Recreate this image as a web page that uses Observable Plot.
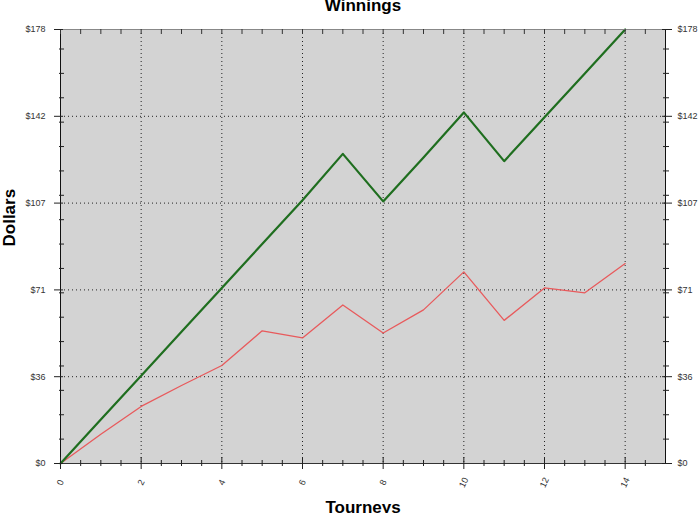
<!DOCTYPE html>
<html>
<head>
<meta charset="utf-8">
<script src="https://cdn.jsdelivr.net/npm/d3@7"></script>
<script src="https://cdn.jsdelivr.net/npm/@observablehq/plot@0.6"></script>
<style>
  html, body { margin: 0; padding: 0; background: #fff; }
  #chart svg { display: block; }
</style>
</head>
<body>
<div id="chart"></div>
<script>
const tourneys = [0, 1, 2, 3, 4, 5, 6, 7, 8, 9, 10, 11, 12, 13, 14];
const greenWinnings = [0, 18, 36, 54, 72, 90, 108, 127, 107.5, 125.5, 144, 124, 142, 160, 178];
const redWinnings = [0, 12, 23.4, 32, 40.2, 54.4, 51.5, 65, 53.5, 63, 78.6, 58.7, 72, 70, 82];

const xLabelTicks = [0, 2, 4, 6, 8, 10, 12, 14];
const xMinorTicks = [0.5, 1, 1.5, 2.5, 3, 3.5, 4.5, 5, 5.5, 6.5, 7, 7.5, 8.5, 9, 9.5, 10.5, 11, 11.5, 12.5, 13, 13.5, 14.5];
const yTickValues = [0, 35.6, 71.2, 106.8, 142.4, 178];
const yTickLabels = ["$0", "$36", "$71", "$107", "$142", "$178"];
const yMinorTicks = [10, 20, 30, 40, 50, 60, 70, 80, 90, 100, 110, 120, 130, 140, 150, 160, 170];

const green = tourneys.map((t, i) => ({t, v: greenWinnings[i]}));
const red = tourneys.map((t, i) => ({t, v: redWinnings[i]}));
const yTicks = yTickValues.map((v, i) => ({v, label: yTickLabels[i]}));

const chart = Plot.plot({
  width: 700,
  height: 513,
  marginLeft: 60,
  marginRight: 35,
  marginTop: 29,
  marginBottom: 50,
  style: {fontFamily: "'Liberation Sans', Arial, sans-serif", background: "#fff", overflow: "hidden"},
  x: {domain: [0, 15], axis: null},
  y: {domain: [0, 178], axis: null},
  marks: [
    Plot.frame({fill: "#d3d3d3", stroke: null}),
    // grid
    Plot.ruleX(xLabelTicks.filter(d => d > 0), {x: d => d, stroke: "#222", strokeWidth: 1, strokeDasharray: "1,3"}),
    Plot.ruleY(yTickValues.filter(d => d > 0 && d < 178), {y: d => d, stroke: "#222", strokeWidth: 1, strokeDasharray: "1,3"}),
    // lines
    Plot.line(red, {x: "t", y: "v", stroke: "#e85a5c", strokeWidth: 1.3}),
    Plot.line(green, {x: "t", y: "v", stroke: "#1f6e1f", strokeWidth: 2.2}),
    // frame edges
    Plot.ruleY([178], {stroke: "#888", strokeWidth: 1}),
    Plot.ruleX([15], {stroke: "#111", strokeWidth: 1}),
    Plot.ruleX([0], {stroke: "#111", strokeWidth: 1}),
    Plot.ruleY([0], {stroke: "#333", strokeWidth: 1.2}),
    // bottom x ticks
    Plot.ruleX(xMinorTicks, {x: d => d, y1: 0, y2: 0, insetTop: -3, insetBottom: -3, stroke: "#222"}),
    Plot.ruleX(xLabelTicks, {x: d => d, y1: 0, y2: 0, insetTop: -6, insetBottom: -6, stroke: "#222"}),
    // top x ticks
    Plot.ruleX(xMinorTicks.concat(xLabelTicks), {x: d => d, y1: 178, y2: 178, insetTop: 0, insetBottom: -5, stroke: "#333"}),
    // left y ticks
    Plot.ruleY(yMinorTicks, {y: d => d, x1: 0, x2: 0, insetLeft: -1, insetRight: -4, stroke: "#222"}),
    Plot.ruleY(yTickValues, {y: d => d, x1: 0, x2: 0, insetLeft: -6, insetRight: -3, stroke: "#222"}),
    // right y ticks
    Plot.ruleY(yMinorTicks, {y: d => d, x1: 15, x2: 15, insetLeft: -2, insetRight: -4, stroke: "#222"}),
    Plot.ruleY(yTickValues, {y: d => d, x1: 15, x2: 15, insetLeft: -3, insetRight: -7, stroke: "#222"}),
    // y tick labels
    Plot.text(yTicks, {y: "v", text: "label", frameAnchor: "left", dx: -15, textAnchor: "end", fontSize: 9, fill: "#333"}),
    Plot.text(yTicks, {y: "v", text: "label", frameAnchor: "right", dx: 12, textAnchor: "start", fontSize: 9, fill: "#333"}),
    // x tick labels
    Plot.text(xLabelTicks, {x: d => d, text: d => String(d), frameAnchor: "bottom", dy: 19, rotate: -65, textAnchor: "middle", lineAnchor: "middle", fontSize: 9, fill: "#333"}),
    // titles
    Plot.text(["Winnings"], {frameAnchor: "top", dy: -24, lineAnchor: "middle", fontSize: 17, fontWeight: "bold", fill: "#000"}),
    Plot.text(["Dollars"], {frameAnchor: "left", dx: -51, rotate: -90, lineAnchor: "middle", fontSize: 17, fontWeight: "bold", fill: "#000"}),
    Plot.text(["Tourneys"], {frameAnchor: "bottom", dy: 44, lineAnchor: "middle", fontSize: 17, fontWeight: "bold", fill: "#000"})
  ]
});
document.getElementById("chart").appendChild(chart);
</script>
</body>
</html>
